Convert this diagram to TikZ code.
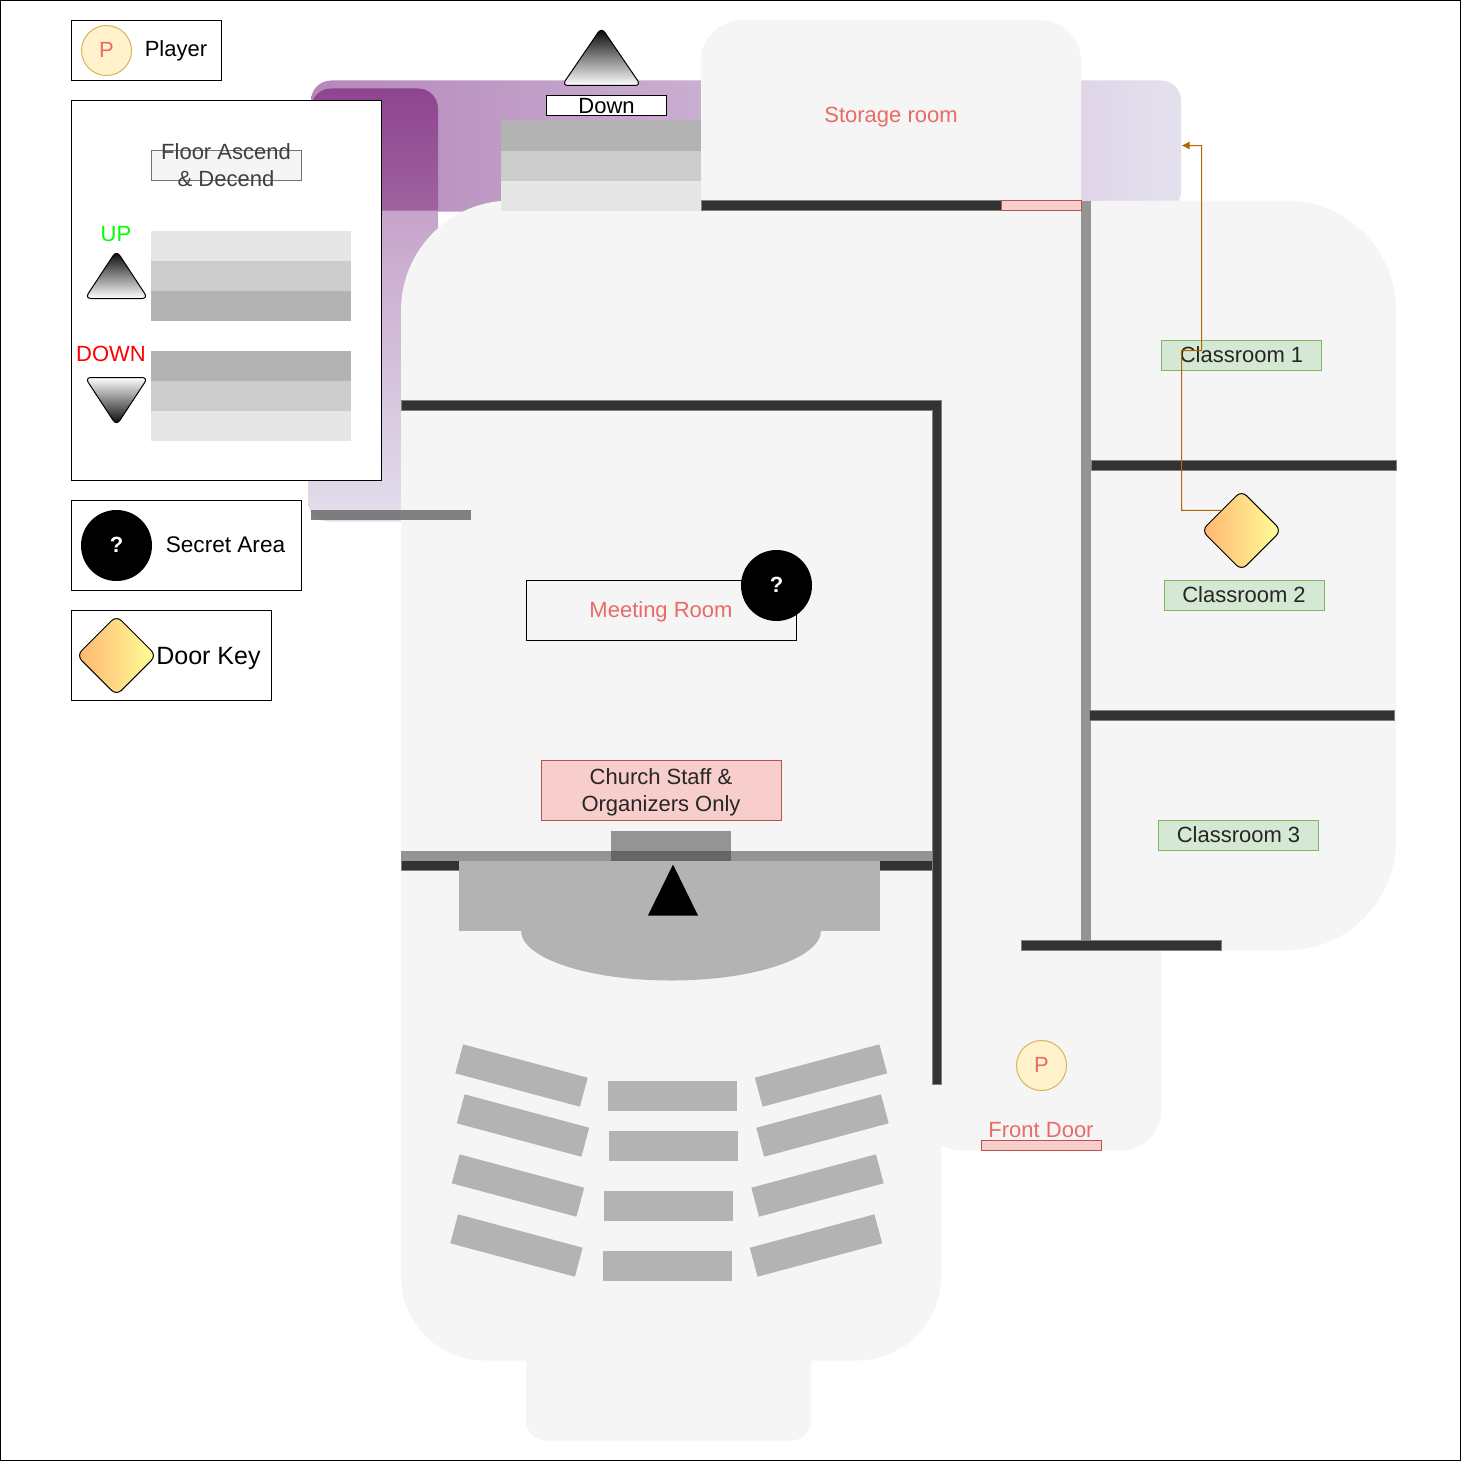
\documentclass[tikz,border=0pt]{standalone}
\usepackage{fontspec}
\setmainfont{Liberation Sans}
\usetikzlibrary{shapes.geometric,arrows.meta}
\definecolor{floorc}{HTML}{F5F5F5}
\definecolor{wallc}{HTML}{333333}
\definecolor{wallg}{HTML}{949494}
\definecolor{salmon}{HTML}{EA6B66}
\definecolor{pinkf}{HTML}{F8CECC}
\definecolor{pinks}{HTML}{B85450}
\definecolor{greenf}{HTML}{D5E8D4}
\definecolor{greens}{HTML}{82B366}
\definecolor{yelf}{HTML}{FFF2CC}
\definecolor{yels}{HTML}{D6B656}
\definecolor{st1}{HTML}{B3B3B3}
\definecolor{st2}{HTML}{CCCCCC}
\definecolor{st3}{HTML}{E6E6E6}
\definecolor{conn}{HTML}{B46504}
\definecolor{keyl}{HTML}{FFB570}
\definecolor{keyr}{HTML}{FFFF99}
\tikzset{
  every node/.style={font=\fontsize{11}{13.5}\selectfont, inner sep=0pt, align=center},
  legendbox/.style={draw=black, line width=0.5pt, fill=white},
  room/.style={text=salmon},
  greenbox/.style={draw=greens, fill=greenf, line width=0.5pt, minimum width=80pt, minimum height=15pt, text=black!85, text depth=1pt},
  playerdot/.style={circle, draw=yels, fill=yelf, line width=0.5pt, minimum size=25pt, text=salmon, text depth=1pt},
  secretdot/.style={circle, fill=black, minimum size=35.5pt, text=white, text depth=1pt, font=\fontsize{11}{13.5}\selectfont\bfseries},
  keydiamond/.style={diamond, draw=black, line width=0.5pt, rounded corners=3.5pt, minimum width=40pt, minimum height=40pt, left color=keyl, right color=keyr},
  wall/.style={fill=wallc, draw=gray, line width=0.3pt},
  greywall/.style={fill=wallg},
  bench/.style={fill=st1, minimum width=64.5pt, minimum height=15pt},
  triup/.style={draw=black, line width=0.5pt, rounded corners=3pt, top color=black, bottom color=white},
  tridown/.style={draw=black, line width=0.5pt, rounded corners=3pt, top color=white, bottom color=black},
}
\begin{document}
\begin{tikzpicture}[x=0.5pt,y=-0.5pt]
\useasboundingbox (0,0) rectangle (1461,1461);
\fill[white] (0,0) rectangle (1461,1461);
\begin{scope}[shift={(0,0.5)}]

% purple background wings
\shade[rounded corners=10pt, left color={rgb,255:red,181;green,135;blue,186}, right color={rgb,255:red,228;green,224;blue,238}] (311,80) rectangle (1181,211);
\shade[top color={rgb,255:red,196;green,160;blue,200}, bottom color={rgb,255:red,227;green,222;blue,236}, rounded corners=10pt] (308,190) rectangle (438,521);
\shade[top color={rgb,255:red,142;green,69;blue,144}, bottom color={rgb,255:red,159;green,98;blue,159}] (311,210) [rounded corners=10pt] -- (311,88) -- (438,88) [sharp corners] -- (438,210) -- cycle;

% floor
\fill[floorc, rounded corners=55pt] (401,200) rectangle (1081,800);
\fill[floorc, rounded corners=42pt] (401,500) rectangle (941,1360);
\fill[floorc, rounded corners=20pt] (921,210) rectangle (1161,1150);
\fill[floorc] (800,200) rectangle (1081,900);
\fill[floorc, rounded corners=20pt] (701,20) rectangle (1081,260);
\fill[floorc, rounded corners=55pt] (1000,200) rectangle (1396,950);
\fill[floorc] (1081,200) rectangle (1200,950);
\fill[floorc, rounded corners=10pt] (526,1300) rectangle (811,1440);

% stairs up to next floor
\fill[st1] (501,120) rectangle (701,150);
\fill[st2] (501,150) rectangle (701,180);
\fill[st3] (501,180) rectangle (701,210);

% walls
\fill[wall] (701,200) rectangle (1001,210);
\fill[greywall] (1081,200) rectangle (1091,945);
\fill[wall] (1091,460) rectangle (1396,470);
\fill[wall] (1089,710) rectangle (1394,720);
\fill[wall] (1021,940) rectangle (1221,950);
\fill[wall] (401,860) rectangle (941,870);
\fill[greywall] (401,850) rectangle (932,860);
\fill[wall] (401,410) -- (401,400) -- (941,400) -- (941,1084) -- (932,1084) -- (932,410) -- cycle;
\fill[fill=gray!85!black, fill opacity=0.85] (311,509.5) rectangle (471,519.5);
\fill[wallg] (611,830) rectangle (731,850);
\fill[black!60] (611,850) rectangle (731,860);

% stage
\fill[st1] (459,860) rectangle (880,930);
\fill[st1] (521,930) arc[start angle=180, end angle=360, x radius=150, y radius=-50] -- cycle;
\fill[black] (673,864) -- (698,915) -- (648,915) -- cycle;

% benches
\node[bench, rotate=-15] (bl1) at (521.5,1075) {};
\node[bench, rotate=-15] (bl2) at (523,1125) {};
\node[bench, rotate=-15] (bl3) at (518,1185) {};
\node[bench, rotate=-15] (bl4) at (516.5,1245) {};
\node[bench] (bc1) at (672.5,1095) {};
\node[bench] (bc2) at (673.5,1145) {};
\node[bench] (bc3) at (668.5,1205) {};
\node[bench] (bc4) at (667.5,1265) {};
\node[bench, rotate=15] (br1) at (821,1075) {};
\node[bench, rotate=15] (br2) at (822.5,1125) {};
\node[bench, rotate=15] (br3) at (817.5,1185) {};
\node[bench, rotate=15] (br4) at (816,1245) {};

% labels on the plan
\node[room] (storage) at (891,116.5) {Storage room};
\node[draw=black, line width=0.5pt, minimum width=135pt, minimum height=30pt] (meeting) at (661.5,610) {};
\node[room] (meetinglabel) at (661,611.5) {Meeting Room};
\node[secretdot] (secret1) at (776.5,585) {?};
\node[draw=pinks, fill=pinkf, line width=0.5pt, minimum width=120pt, minimum height=30pt] (staff) at (661.5,790) {};
\node[text=black!85] (stafflabel) at (661,791.5) {Church Staff \&\\Organizers Only};
\node[draw=pinks, fill=pinkf, line width=0.5pt, minimum width=40pt, minimum height=5pt] (storagedoor) at (1041.5,205) {};
\node[greenbox] (class1) at (1241.5,355) {Classroom 1};
\node[greenbox] (class2) at (1244,595) {Classroom 2};
\node[greenbox] (class3) at (1238.5,835) {Classroom 3};
\node[keydiamond] (key1) at (1241.5,530) {};
\node[draw=pinks, fill=pinkf, line width=0.5pt, minimum width=60pt, minimum height=5pt] (frontdoor) at (1041.5,1145) {};
\node[room, anchor=base] (frontlabel) at (1041,1136.5) {Front Door};
\node[playerdot] (player1) at (1041.5,1065) {P};

% connector
\coordinate (wingedge) at (1181.5,145);
\coordinate (w1) at (1181.5,510);
\coordinate (w2) at (1181.5,350);
\coordinate (w3) at (1201.5,350);
\coordinate (w4) at (1201.5,145);
\draw[conn, line width=0.5pt, -{Latex[length=4pt,width=4pt]}] (key1.north west) -- (w1) -- (w2) -- (w3) -- (w4) -- (wingedge);

% top "Down" marker
\draw[triup] (601.5,27) -- (641,85) -- (562,85) -- cycle;
\node[draw=black, fill=white, line width=0.5pt, minimum width=60pt, minimum height=10pt, text height=8pt, text depth=0.5pt] (downlabel) at (606.5,105) {Down};

% legend
\node[legendbox, minimum width=75pt, minimum height=30pt] (legplayerbox) at (146.5,50) {};
\node[playerdot] (legplayer) at (106.5,50) {P};
\node (legplayertext) at (176,50.5) {Player};

\node[legendbox, minimum width=155pt, minimum height=190pt] (legfloor) at (226.5,290) {};
\node[draw=gray!90!black, fill=floorc, line width=0.5pt, minimum width=75pt, minimum height=15pt] (legfloorbox) at (226.5,165) {};
\node[text=black!75] (legfloortext) at (226,164.5) {Floor Ascend\\\& Decend};
\node[text={rgb,255:red,0;green,255;blue,0}] (legup) at (116,233.5) {UP};
\node[text=red] (legdown) at (111,353.5) {DOWN};
\draw[triup] (116.5,250) -- (148,298) -- (85,298) -- cycle;
\draw[tridown] (85,377) -- (148,377) -- (116.5,425) -- cycle;
\fill[st3] (151,230) rectangle (351,260);
\fill[st2] (151,260) rectangle (351,290);
\fill[st1] (151,290) rectangle (351,320);
\fill[st1] (151,350) rectangle (351,380);
\fill[st2] (151,380) rectangle (351,410);
\fill[st3] (151,410) rectangle (351,440);

\node[legendbox, minimum width=115pt, minimum height=45pt] (legsecretbox) at (186.5,545) {};
\node[secretdot] (legsecret) at (116.5,545) {?};
\node[font=\fontsize{11.3}{13.5}\selectfont] (legsecrettext) at (225.5,544.5) {Secret Area};

\node[legendbox, minimum width=100pt, minimum height=45pt] (legkeybox) at (171.5,655) {};
\node[keydiamond] (legkey) at (116.5,655) {};
\node[font=\fontsize{12.5}{15}\selectfont] (legkeytext) at (208.5,658) {Door Key};
\end{scope}

% border
\draw[black, line width=0.5pt] (0.5,0.5) rectangle (1460.5,1460.5);
\end{tikzpicture}
\end{document}
